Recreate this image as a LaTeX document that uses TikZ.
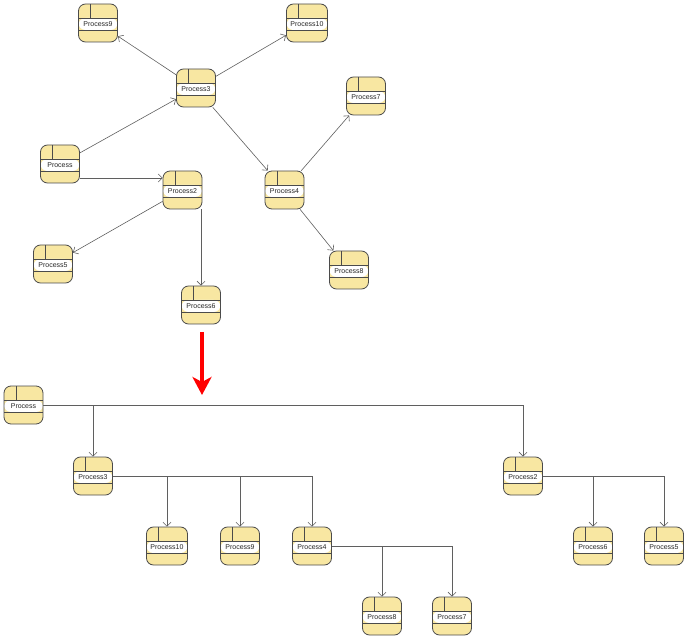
\documentclass[tikz,border=0pt]{standalone}
\usepackage{fontspec}
\setmainfont{Liberation Sans}
\usetikzlibrary{arrows.meta}
\definecolor{procfill}{RGB}{248,231,162}
\definecolor{procline}{RGB}{75,75,75}
\definecolor{edgegray}{RGB}{95,95,95}

\tikzset{
  proc/.style={draw=procline, line width=0.8pt, fill=procfill, rounded corners=7pt,
    minimum width=39pt, minimum height=38pt, inner xsep=4pt,
    text height=7pt, text depth=0pt, text=black!85,
    font=\fontsize{7}{8}\selectfont,
    path picture={
      \fill[white] ([yshift=-14pt]path picture bounding box.north west)
        rectangle ([yshift=-26pt]path picture bounding box.north east);
      \draw[procline, line width=0.6pt]
        ([yshift=-14pt]path picture bounding box.north west) -- ([yshift=-14pt]path picture bounding box.north east)
        ([yshift=-26pt]path picture bounding box.north west) -- ([yshift=-26pt]path picture bounding box.north east)
        ([xshift=12pt]path picture bounding box.north west) -- ([xshift=12pt,yshift=-14pt]path picture bounding box.north west);
    }},
  link/.style={draw=edgegray, line width=0.6pt, -{Straight Barb[length=4pt,width=8pt]}},
  bigarrow/.style={draw=red, line width=3.5pt, -{Stealth[length=18pt,width=19pt,inset=5pt]}},
}

\begin{document}
\begin{tikzpicture}[x=1pt,y=-1pt]
\useasboundingbox (0,0) rectangle (686,639);
% ---------- network before ----------
\node[proc] (p9)  at (98,23)    {Process9};
\node[proc] (p10) at (307,23)   {Process10};
\node[proc] (p3)  at (196,88)   {Process3};
\node[proc] (p7)  at (366,96)   {Process7};
\node[proc] (p)   at (60,164)   {Process};
\node[proc] (p2)  at (182.5,190){Process2};
\node[proc] (p4)  at (284.5,190){Process4};
\node[proc] (p5)  at (53,264)   {Process5};
\node[proc] (p8)  at (349,270)  {Process8};
\node[proc] (p6)  at (201,305)  {Process6};

\draw[link] (p3) -- (p9);
\draw[link] (p3) -- (p10);
\draw[link] (p3) -- (p4);
\draw[link] (p) -- (p3);
\draw[link] ([yshift=-14pt]p.east) -- ([yshift=-14pt]p.east -| p2.west);
\draw[link] (p2) -- (p5);
\draw[link] (p2.south -| p6.north) -- (p6.north);
\draw[link] (p4) -- (p7);
\draw[link] (p4) -- (p8);

% ---------- arrow ----------
\coordinate (redtop) at (202,332);
\coordinate (redtip) at (202,395);
\draw[bigarrow] (redtop) -- (redtip);

% ---------- tree after ----------
\node[proc] (q)   at (23.5,405) {Process};
\node[proc] (q3)  at (93,476)   {Process3};
\node[proc] (q2)  at (523,476)  {Process2};
\node[proc] (q10) at (167,546)  {Process10};
\node[proc] (q9)  at (240,546)  {Process9};
\node[proc] (q4)  at (312,546)  {Process4};
\node[proc] (q6)  at (593,546)  {Process6};
\node[proc] (q5)  at (664,546)  {Process5};
\node[proc] (q8)  at (382,616)  {Process8};
\node[proc] (q7)  at (452,616)  {Process7};

\draw[link] (q.east) -| (q3.north);
\draw[link] (q.east) -| (q2.north);
\draw[link] (q3.east) -| (q10.north);
\draw[link] (q3.east) -| (q9.north);
\draw[link] (q3.east) -| (q4.north);
\draw[link] (q2.east) -| (q6.north);
\draw[link] (q2.east) -| (q5.north);
\draw[link] (q4.east) -| (q8.north);
\draw[link] (q4.east) -| (q7.north);
\end{tikzpicture}
\end{document}
